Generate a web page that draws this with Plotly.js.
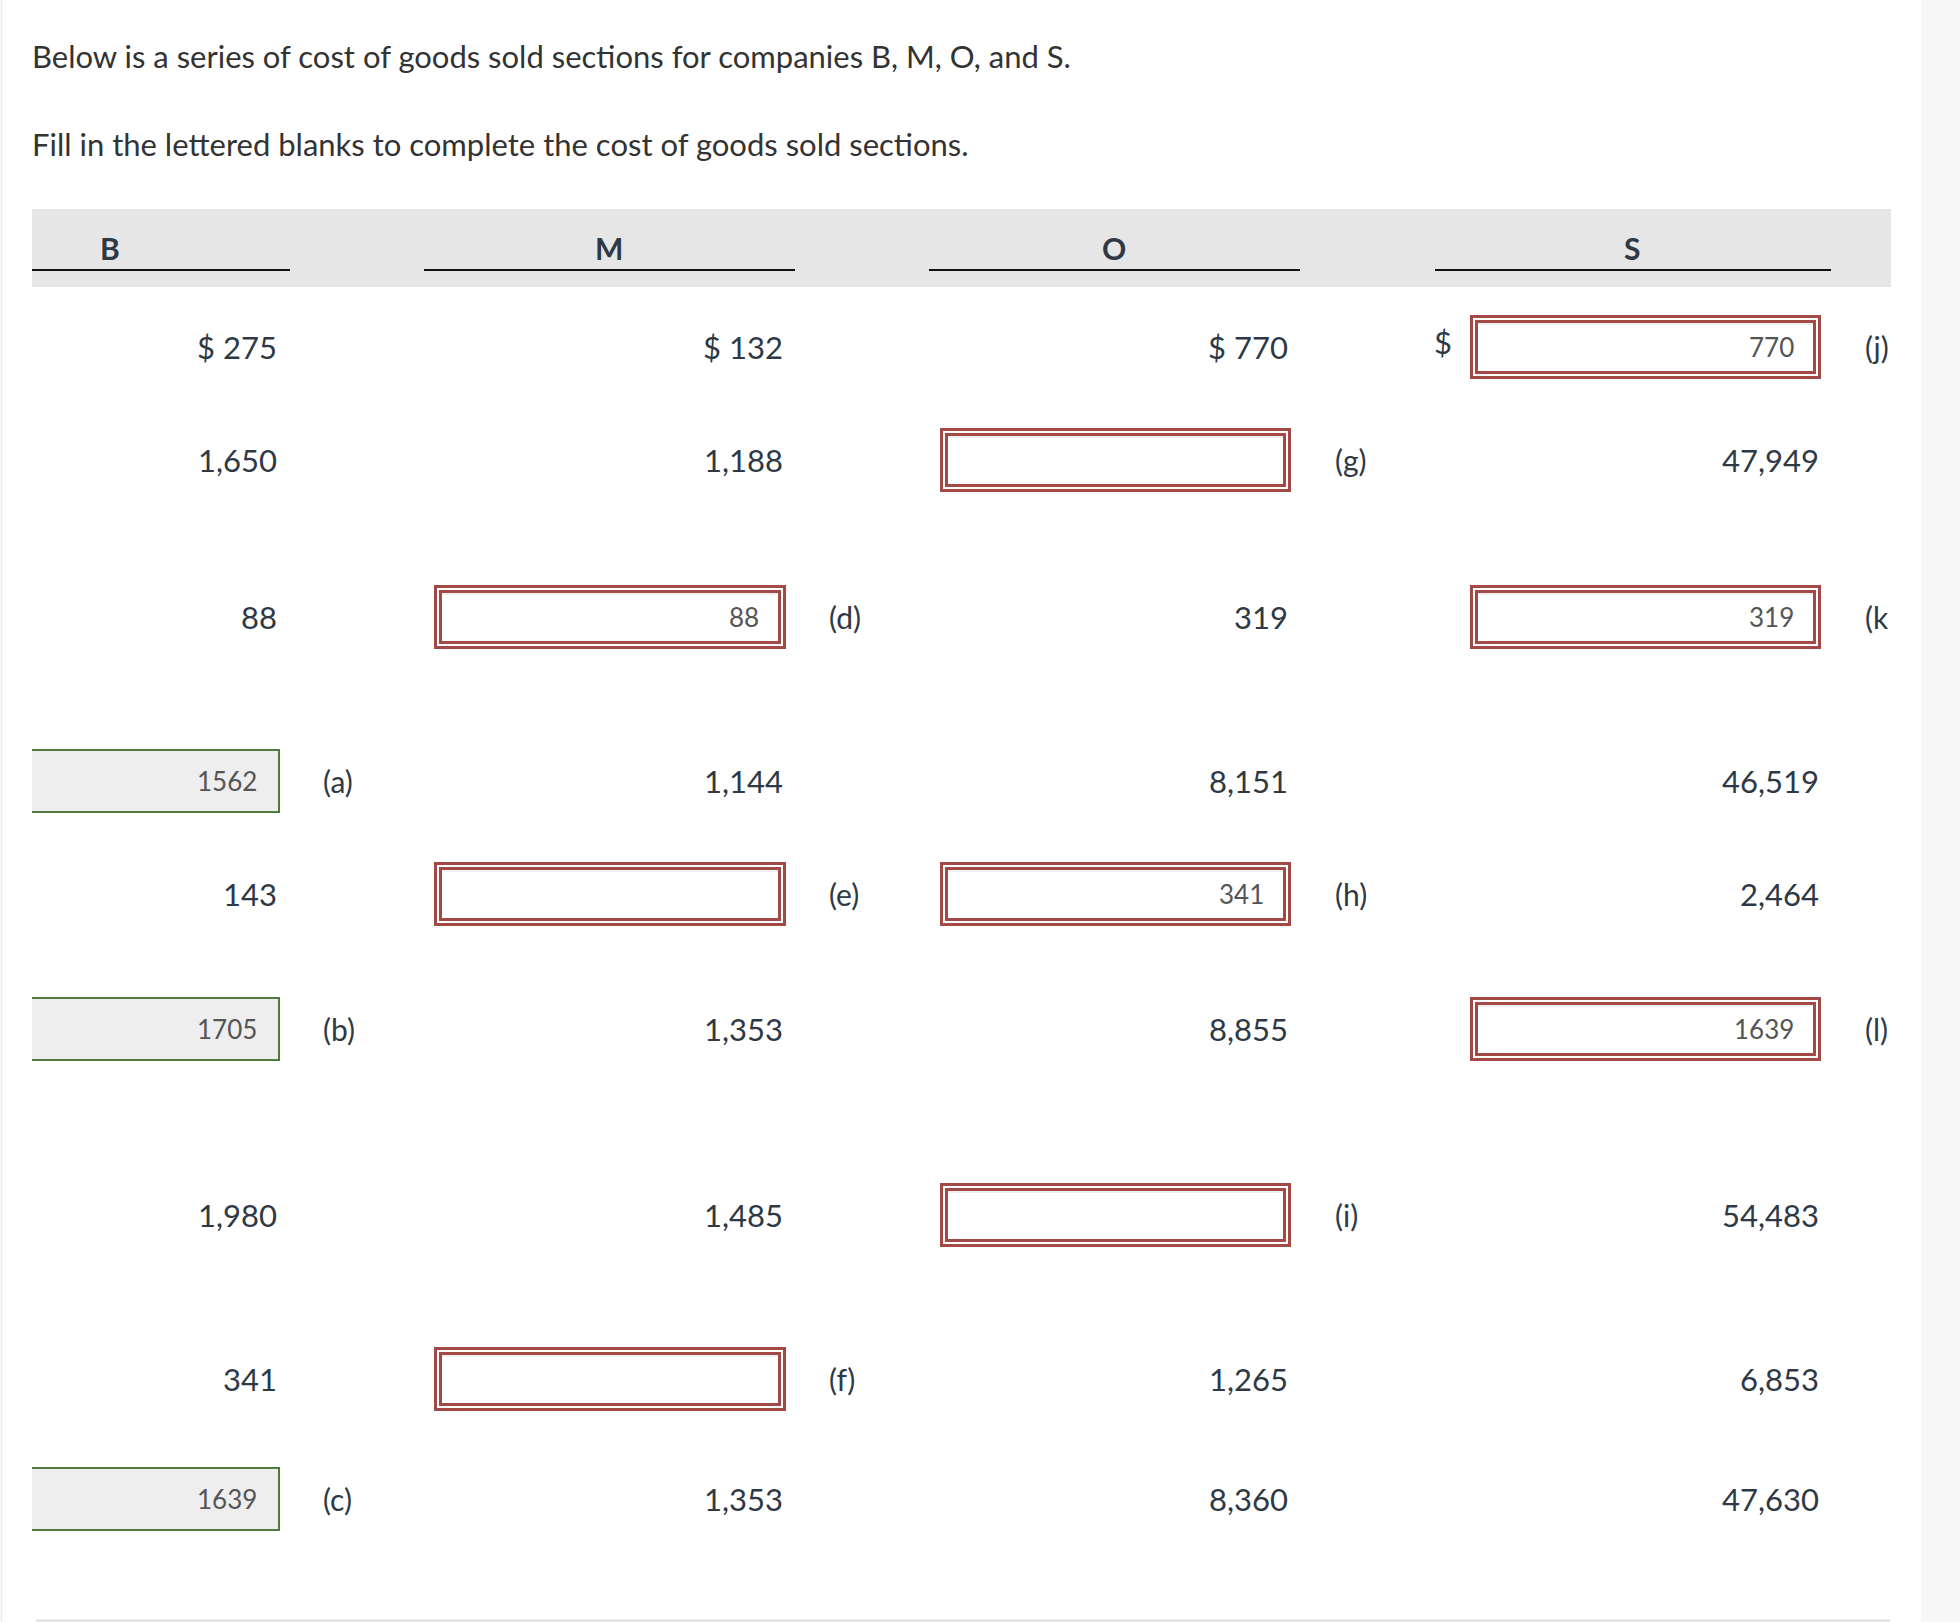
<!DOCTYPE html>
<html>
<head>
<meta charset="utf-8">
<script src="https://cdn.plot.ly/plotly-3.0.1.min.js"></script>
<style>
  html, body { margin: 0; padding: 0; background: #ffffff; }
  #chart { width: 1960px; height: 1622px; }
</style>
</head>
<body>
<div id="chart"></div>
<script>
// ---------------- DATA ----------------
const introLines = [
  'Below is a series of cost of goods sold sections for companies B, M, O, and S.',
  'Fill in the lettered blanks to complete the cost of goods sold sections.'
];
const companies = ['B', 'M', 'O', 'S'];

// printed figures per company (null = cell holds an input box)
const valuesB = [275, 1650, 88, null, 143, null, 1980, 341, null];
const valuesM = [132, 1188, null, 1144, null, 1353, 1485, null, 1353];
const valuesO = [770, null, 319, 8151, null, 8855, null, 1265, 8360];
const valuesS = [null, 47949, null, 46519, 2464, null, 54483, 6853, 47630];

// entered answers ('' = empty box, null = no box)
const inputsB = [null, null, null, 1562, null, 1705, null, null, 1639];
const inputsM = [null, null, 88, null, '', null, null, '', null];
const inputsO = [null, '', null, null, 341, null, '', null, null];
const inputsS = [770, null, 319, null, null, 1639, null, null, null];

// letter labels of the blanks
const labelsB = [null, null, null, '(a)', null, '(b)', null, null, '(c)'];
const labelsM = [null, null, '(d)', null, '(e)', null, null, '(f)', null];
const labelsO = [null, '(g)', null, null, '(h)', null, '(i)', null, null];
const labelsS = ['(j)', null, '(k', null, null, '(l)', null, null, null];

// ---------------- LAYOUT CONSTANTS ----------------
const W = 1960, H = 1622;
const FONT = 'Lato, "Open Sans", sans-serif';
const TEXT_COLOR = '#2e3945';
const INPUT_COLOR = '#555555';
const RED = '#a34a46';
const GREEN = '#4e7a3d';
const rowY = [347, 460, 617, 781, 894, 1029, 1215, 1379, 1499];
const BOX_H = 64;
const cols = {
  B: { values: valuesB, inputs: inputsB, labels: labelsB, textRight: 279, box: [32, 280], labelX: 321, green: true, head: 110, line: [32, 290] },
  M: { values: valuesM, inputs: inputsM, labels: labelsM, textRight: 785, box: [434, 786], labelX: 827, green: false, head: 609, line: [424, 795] },
  O: { values: valuesO, inputs: inputsO, labels: labelsO, textRight: 1290, box: [940, 1291], labelX: 1333, green: false, head: 1114, line: [929, 1300] },
  S: { values: valuesS, inputs: inputsS, labels: labelsS, textRight: 1821, box: [1470, 1821], labelX: 1863, green: false, head: 1632, line: [1435, 1831] }
};

const shapes = [];
const annotations = [];

// page frame
shapes.push({ type: 'rect', xref: 'x', yref: 'y', x0: 1921, x1: W, y0: 0, y1: H, fillcolor: '#f7f7f7', line: { width: 0 }, layer: 'below' });
shapes.push({ type: 'line', xref: 'x', yref: 'y', x0: 1.5, x1: 1.5, y0: 0, y1: H, line: { color: '#ececec', width: 1.5 } });
shapes.push({ type: 'line', xref: 'x', yref: 'y', x0: 36, x1: 1890, y0: 1620.5, y1: 1620.5, line: { color: '#dcdcdc', width: 2 } });

// header band
shapes.push({ type: 'rect', xref: 'x', yref: 'y', x0: 32, x1: 1891, y0: 209, y1: 287, fillcolor: '#e6e6e6', line: { width: 0 }, layer: 'below' });

// intro text
introLines.forEach((t, i) => {
  annotations.push({ xref: 'x', yref: 'y', x: 30, y: [56, 144][i], text: t, showarrow: false,
    xanchor: 'left', yanchor: 'middle', font: { family: FONT, size: 31, color: '#333333' } });
});

function fmt(v, row) {
  const s = v.toLocaleString('en-US');
  return row === 0 ? '$ ' + s : s;
}

companies.forEach(c => {
  const col = cols[c];
  // heading + underline
  annotations.push({ xref: 'x', yref: 'y', x: col.head, y: 248, text: c, showarrow: false,
    xanchor: 'center', yanchor: 'middle', font: { family: FONT, size: 30, weight: 'bold', color: '#2e3945' } });
  shapes.push({ type: 'line', xref: 'x', yref: 'y', x0: col.line[0], x1: col.line[1], y0: 270, y1: 270, line: { color: '#111111', width: 2 } });

  col.values.forEach((v, r) => {
    if (v === null) return;
    annotations.push({ xref: 'x', yref: 'y', x: col.textRight, y: rowY[r], text: fmt(v, r), showarrow: false,
      xanchor: 'right', yanchor: 'middle', font: { family: FONT, size: 31, color: TEXT_COLOR } });
  });

  col.inputs.forEach((v, r) => {
    if (v === null) return;
    const y0 = rowY[r] - BOX_H / 2, y1 = rowY[r] + BOX_H / 2;
    const [x0, x1] = col.box;
    if (col.green) {
      shapes.push({ type: 'rect', xref: 'x', yref: 'y', x0: x0, x1: x1, y0: y0, y1: y1, fillcolor: '#eeeeee', line: { width: 0 }, layer: 'below' });
      shapes.push({ type: 'path', xref: 'x', yref: 'y', path: `M ${x0} ${y0 + 1} L ${x1 - 1} ${y0 + 1} L ${x1 - 1} ${y1 - 1} L ${x0} ${y1 - 1}`,
        line: { color: GREEN, width: 2 } });
    } else {
      shapes.push({ type: 'rect', xref: 'x', yref: 'y', x0: x0 + 1.5, x1: x1 - 1.5, y0: y0 + 1.5, y1: y1 - 1.5, fillcolor: '#ffffff', line: { color: RED, width: 3 } });
      shapes.push({ type: 'rect', xref: 'x', yref: 'y', x0: x0 + 6.5, x1: x1 - 6.5, y0: y0 + 6.5, y1: y1 - 6.5, line: { color: RED, width: 3 } });
      shapes.push({ type: 'line', xref: 'x', yref: 'y', x0: x0 + 8, x1: x1 - 8, y0: y0 + 9, y1: y0 + 9, line: { color: '#ececec', width: 1.5 } });
    }
    if (v !== '') {
      annotations.push({ xref: 'x', yref: 'y', x: x1 - (col.green ? 21 : 25), y: rowY[r], text: String(v), showarrow: false,
        xanchor: 'right', yanchor: 'middle', font: { family: FONT, size: 26, color: INPUT_COLOR } });
    }
  });

  col.labels.forEach((l, r) => {
    if (l === null) return;
    annotations.push({ xref: 'x', yref: 'y', x: col.labelX, y: rowY[r], text: l, showarrow: false,
      xanchor: 'left', yanchor: 'middle', font: { family: FONT, size: 30, color: TEXT_COLOR } });
  });
});

// dollar sign in front of S's first box
annotations.push({ xref: 'x', yref: 'y', x: 1443, y: 342, text: '$', showarrow: false,
  xanchor: 'center', yanchor: 'middle', font: { family: FONT, size: 31, color: TEXT_COLOR } });

const layout = {
  width: W, height: H,
  margin: { l: 0, r: 0, t: 0, b: 0, pad: 0 },
  paper_bgcolor: '#ffffff', plot_bgcolor: '#ffffff',
  showlegend: false,
  xaxis: { range: [0, W], visible: false, fixedrange: true },
  yaxis: { range: [H, 0], visible: false, fixedrange: true },
  shapes: shapes,
  annotations: annotations
};

Plotly.newPlot('chart', [{ x: [], y: [], type: 'scatter', mode: 'markers', hoverinfo: 'skip' }], layout, { staticPlot: true, displayModeBar: false });
</script>
</body>
</html>
